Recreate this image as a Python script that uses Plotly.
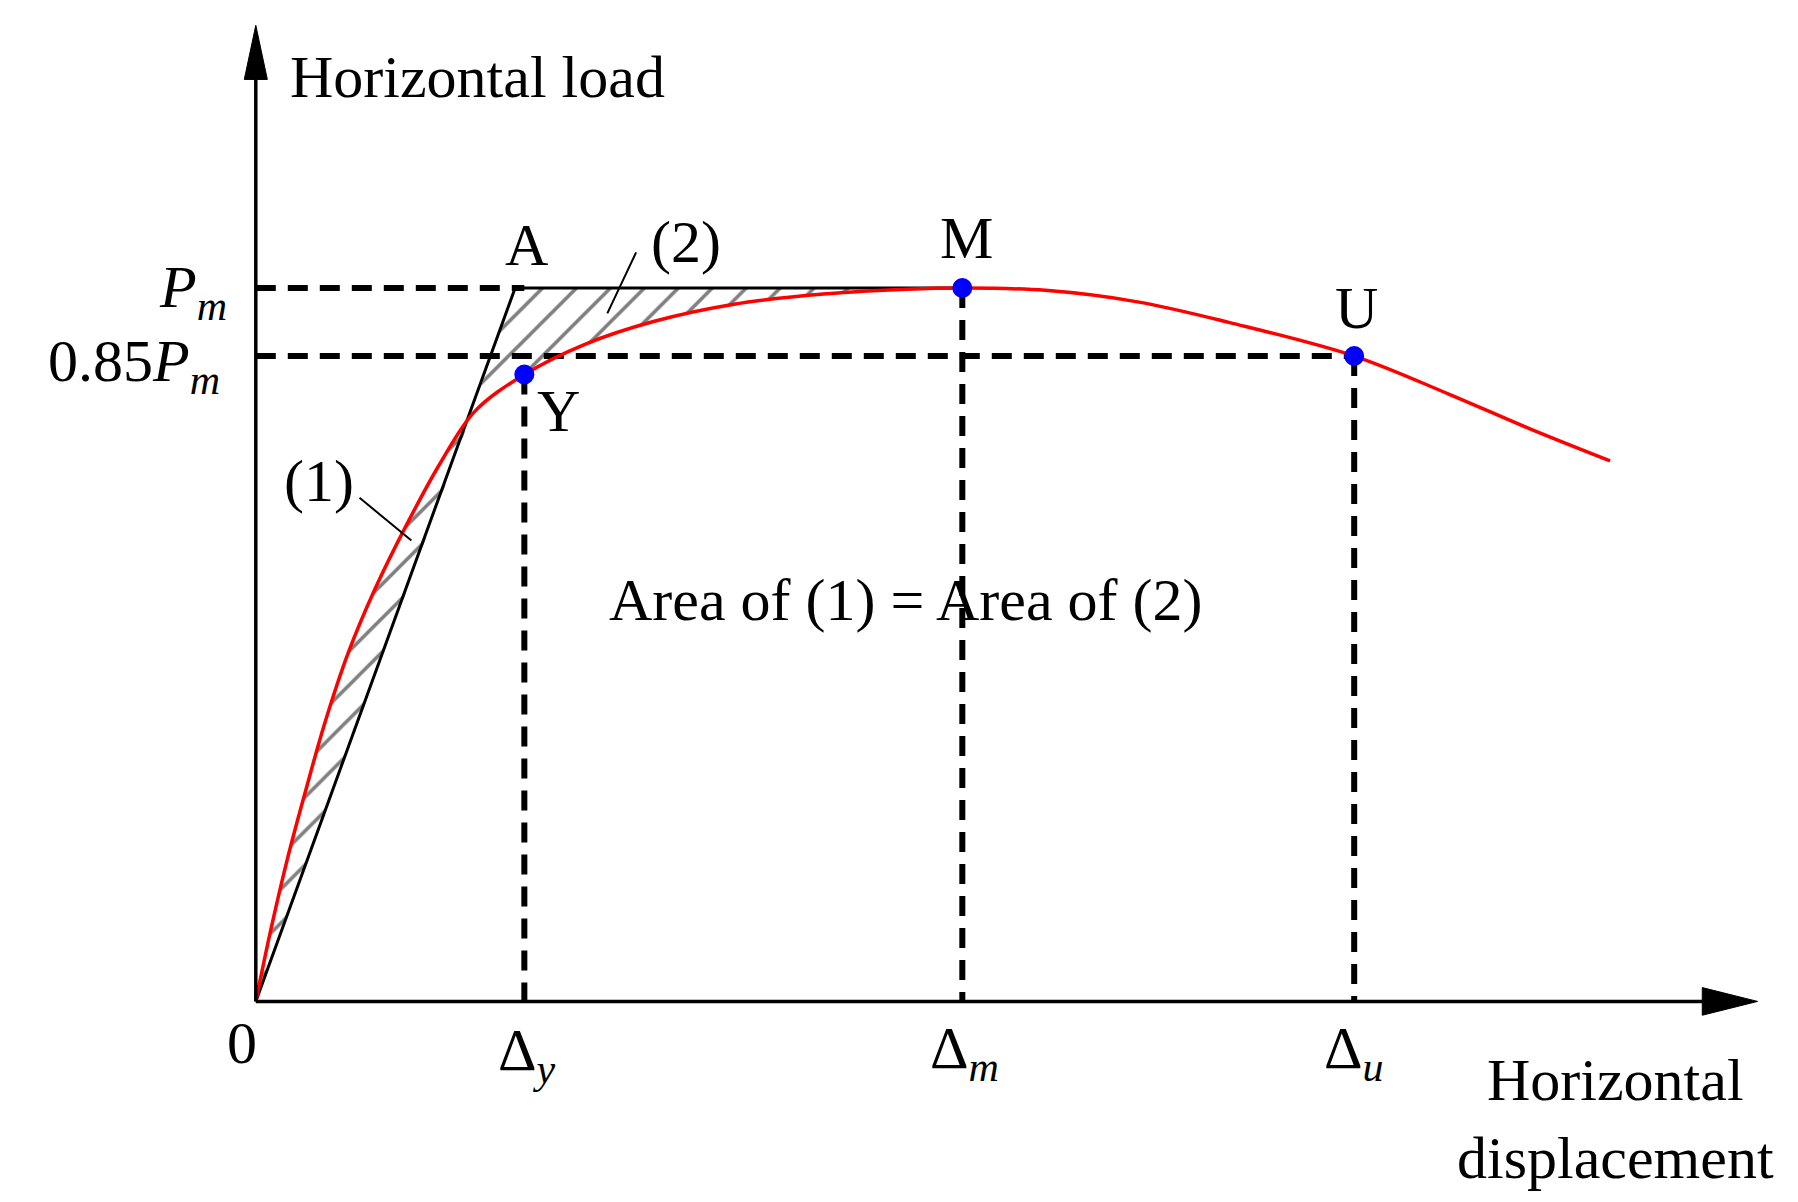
import plotly.graph_objects as go

# data in schematic (display) coordinates; y grows downward
curve_x = [215, 228, 242, 258, 275, 295, 318, 345, 375, 405, 448, 500, 560, 630, 710, 780, 828, 900, 980, 1060, 1168, 1250, 1320, 1390]
curve_y = [862, 800, 740, 680, 620, 560, 505, 450, 395, 350, 318, 292, 272, 257, 248, 244, 243, 245, 255, 273, 302, 335, 365, 393]
origin = (215, 862)
pt_A = (440, 243)
pt_Y = (448, 318)
pt_M = (828, 243)
pt_U = (1168, 302)
inter = (403, 350)

fnt = "Liberation Serif"
fig = go.Figure()

hatch = dict(shape="/", fgcolor="black", bgcolor="white", size=24, solidity=0.15)
r1x = [x for x, y in zip(curve_x, curve_y) if x <= inter[0]] + [inter[0], origin[0]]
r1y = [y for x, y in zip(curve_x, curve_y) if x <= inter[0]] + [inter[1], origin[1]]
fig.add_trace(go.Scatter(x=r1x, y=r1y, fill="toself", mode="none", fillpattern=hatch))
seg = [(x, y) for x, y in zip(curve_x, curve_y) if inter[0] < x <= pt_M[0]]
r2x = [inter[0], pt_A[0], pt_M[0]] + [p[0] for p in reversed(seg)] + [inter[0]]
r2y = [inter[1], pt_A[1], pt_M[1]] + [p[1] for p in reversed(seg)] + [inter[1]]
fig.add_trace(go.Scatter(x=r2x, y=r2y, fill="toself", mode="none", fillpattern=hatch))

fig.add_trace(go.Scatter(x=[origin[0], pt_A[0], pt_M[0]], y=[origin[1], pt_A[1], pt_M[1]],
                         mode="lines", line=dict(color="black", width=3)))

dash = dict(color="black", width=6, dash="20px,12px")
for xs, ys in [([215, 448], [243, 243]), ([215, 1168], [302, 302]),
               ([448, 448], [318, 862]), ([828, 828], [243, 862]), ([1168, 1168], [302, 862])]:
    fig.add_trace(go.Scatter(x=xs, y=ys, mode="lines", line=dash))

fig.add_trace(go.Scatter(x=curve_x, y=curve_y, mode="lines", line=dict(color="red", width=3.5, shape="spline")))
fig.add_trace(go.Scatter(x=[pt_Y[0], pt_M[0], pt_U[0]], y=[pt_Y[1], pt_M[1], pt_U[1]], mode="markers",
                         marker=dict(color="blue", size=20)))

fig.add_trace(go.Scatter(x=[215, 215], y=[862, 40], mode="lines", line=dict(color="black", width=3.5)))
fig.add_trace(go.Scatter(x=[215, 1480], y=[862, 862], mode="lines", line=dict(color="black", width=3.5)))
fig.add_trace(go.Scatter(x=[205, 215, 225, 205], y=[62, 15, 62, 62], fill="toself", mode="lines",
                         line=dict(color="black", width=1), fillcolor="black"))
fig.add_trace(go.Scatter(x=[1470, 1518, 1470, 1470], y=[850, 862, 874, 850], fill="toself", mode="lines",
                         line=dict(color="black", width=1), fillcolor="black"))
fig.add_trace(go.Scatter(x=[305, 350], y=[425, 462], mode="lines", line=dict(color="black", width=2)))
fig.add_trace(go.Scatter(x=[545, 520], y=[212, 265], mode="lines", line=dict(color="black", width=2)))

def txt(x, y, s, anchor="center", size=60):
    fig.add_annotation(x=x, y=y, text=s, showarrow=False, xanchor=anchor,
                       font=dict(family=fnt, size=size, color="black"))

txt(243, 60, "Horizontal load", "left")
txt(192, 246, "<i>P<sub>m</sub></i>", "right")
txt(186, 310, "0.85<i>P<sub>m</sub></i>", "right")
txt(450, 206, "A")
txt(832, 200, "M")
txt(1170, 260, "U")
txt(478, 350, "Y")
txt(270, 410, "(1)")
txt(588, 203, "(2)")
txt(520, 514, "Area of (1) = Area of (2)", "left")
txt(203, 898, "0")
txt(450, 908, "Δ<sub><i>y</i></sub>")
txt(830, 906, "Δ<sub><i>m</i></sub>")
txt(1168, 906, "Δ<sub><i>u</i></sub>")
txt(1395, 930, "Horizontal")
txt(1395, 998, "displacement")

fig.update_layout(width=1798, height=1202, margin=dict(l=0, r=0, t=0, b=0),
                  showlegend=False, plot_bgcolor="white", paper_bgcolor="white",
                  xaxis=dict(range=[0, 1560], visible=False),
                  yaxis=dict(range=[1043, 0], visible=False))
fig.write_html("out.html")
